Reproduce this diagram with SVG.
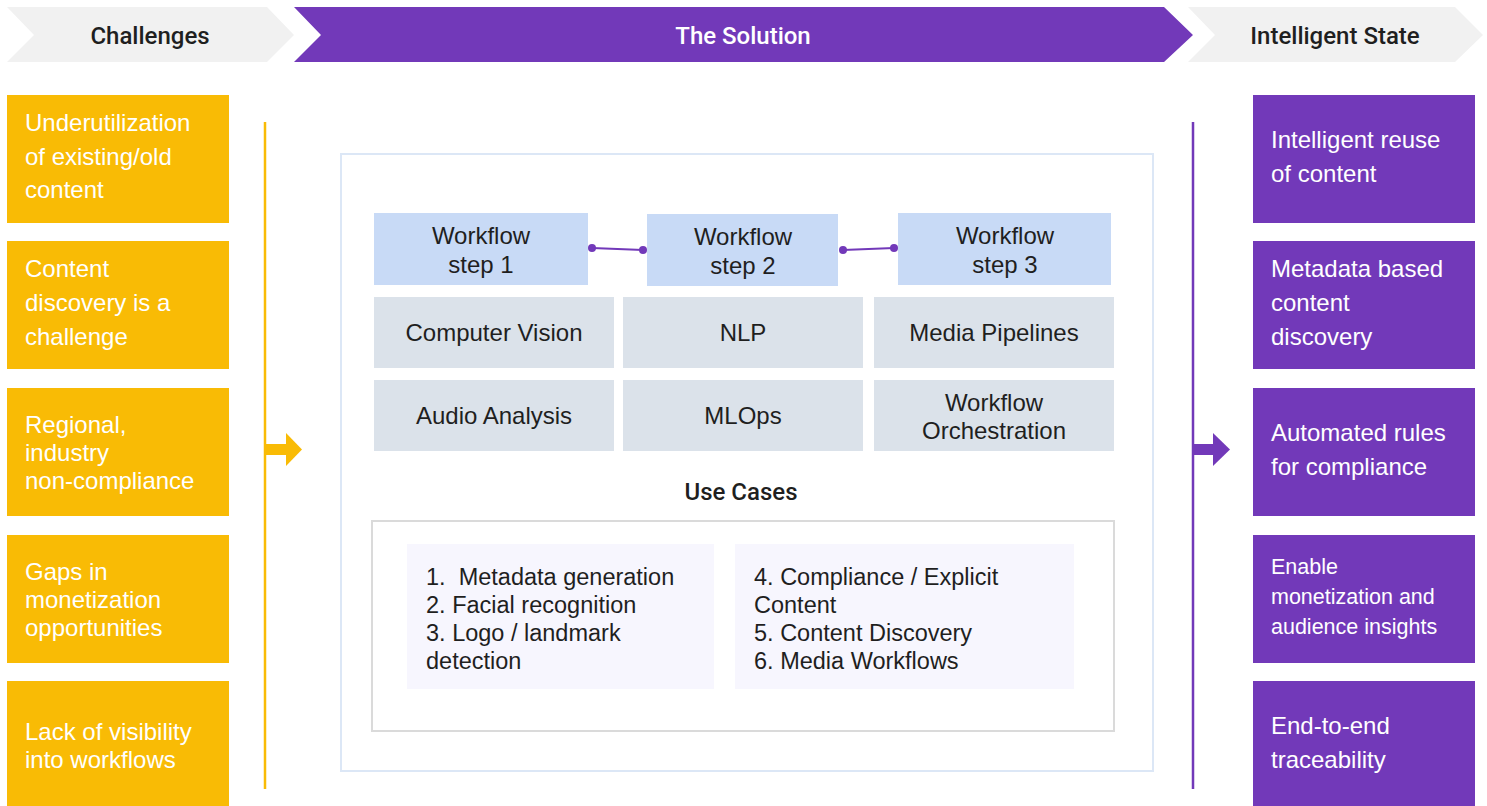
<svg xmlns="http://www.w3.org/2000/svg" width="1487" height="806" viewBox="0 0 1487 806">
<style>
.hd{font-family:Roboto,"Liberation Sans",sans-serif;font-weight:500;font-size:24px;text-anchor:middle}
.wt{font-family:"Liberation Sans",Arial,sans-serif;font-size:24px;fill:#ffffff}
.wt2{font-family:"Liberation Sans",Arial,sans-serif;font-size:21.5px;fill:#ffffff}
.dk{font-family:"Liberation Sans",Arial,sans-serif;font-size:24px;fill:#1f1f1f;text-anchor:middle}
.uc{font-family:"Liberation Sans",Arial,sans-serif;font-size:23.5px;fill:#1f1f1f}
.yb{fill:#F9BB05}
.pb{fill:#7239B9}
.wf{fill:#C8DAF6}
.gb{fill:#DBE2EA}
.lv{fill:#F7F6FE}
</style>
<rect width="1487" height="806" fill="#ffffff"/>

<g id="header-challenges">
<polygon points="7,7 267,7 294,35 267,62 7,62 34,35" fill="#F1F1F1"/>
<text class="hd" x="150" y="44" fill="#1f1f1f">Challenges</text>
</g>
<g id="header-solution">
<polygon points="294,7 1164,7 1193,35 1164,62 294,62 321,35" fill="#7239B9"/>
<text class="hd" x="743" y="44" fill="#ffffff">The Solution</text>
</g>
<g id="header-intelligent">
<polygon points="1188,7 1455,7 1483,35 1455,62 1188,62 1215,35" fill="#F1F1F1"/>
<text class="hd" x="1335" y="44" fill="#1f1f1f">Intelligent State</text>
</g>

<g id="challenge-1"><rect class="yb" x="7" y="95" width="222" height="128"/>
<text class="wt" x="25" y="131">Underutilization</text><text class="wt" x="25" y="165">of existing/old</text><text class="wt" x="25" y="198">content</text></g>
<g id="challenge-2"><rect class="yb" x="7" y="241" width="222" height="128"/>
<text class="wt" x="25" y="277">Content</text><text class="wt" x="25" y="311">discovery is a</text><text class="wt" x="25" y="345">challenge</text></g>
<g id="challenge-3"><rect class="yb" x="7" y="388" width="222" height="128"/>
<text class="wt" x="25" y="433">Regional,</text><text class="wt" x="25" y="461">industry</text><text class="wt" x="25" y="489">non-compliance</text></g>
<g id="challenge-4"><rect class="yb" x="7" y="535" width="222" height="128"/>
<text class="wt" x="25" y="580">Gaps in</text><text class="wt" x="25" y="608">monetization</text><text class="wt" x="25" y="636">opportunities</text></g>
<g id="challenge-5"><rect class="yb" x="7" y="681" width="222" height="125"/>
<text class="wt" x="25" y="740">Lack of visibility</text><text class="wt" x="25" y="768">into workflows</text></g>

<g id="state-1"><rect class="pb" x="1253" y="95" width="222" height="128"/>
<text class="wt" x="1271" y="148">Intelligent reuse</text><text class="wt" x="1271" y="182">of content</text></g>
<g id="state-2"><rect class="pb" x="1253" y="241" width="222" height="128"/>
<text class="wt" x="1271" y="277">Metadata based</text><text class="wt" x="1271" y="311">content</text><text class="wt" x="1271" y="345">discovery</text></g>
<g id="state-3"><rect class="pb" x="1253" y="388" width="222" height="128"/>
<text class="wt" x="1271" y="441">Automated rules</text><text class="wt" x="1271" y="475">for compliance</text></g>
<g id="state-4"><rect class="pb" x="1253" y="535" width="222" height="128"/>
<text class="wt2" x="1271" y="574">Enable</text><text class="wt2" x="1271" y="604">monetization and</text><text class="wt2" x="1271" y="634">audience insights</text></g>
<g id="state-5"><rect class="pb" x="1253" y="681" width="222" height="125"/>
<text class="wt" x="1271" y="734">End-to-end</text><text class="wt" x="1271" y="768">traceability</text></g>

<g id="solution-container">
<rect x="341" y="154" width="812" height="617" fill="#ffffff" stroke="#DCE7F6" stroke-width="2"/>
</g>

<g id="wf-step-1"><rect class="wf" x="374" y="213" width="214" height="72"/>
<text class="dk" x="481" y="244">Workflow</text><text class="dk" x="481" y="273">step 1</text></g>
<g id="wf-step-2"><rect class="wf" x="647" y="214" width="191" height="72"/>
<text class="dk" x="743" y="245">Workflow</text><text class="dk" x="743" y="274">step 2</text></g>
<g id="wf-step-3"><rect class="wf" x="898" y="213" width="213" height="72"/>
<text class="dk" x="1005" y="244">Workflow</text><text class="dk" x="1005" y="273">step 3</text></g>

<g id="cap-cv"><rect class="gb" x="374" y="297" width="240" height="71"/><text class="dk" x="494" y="341">Computer Vision</text></g>
<g id="cap-nlp"><rect class="gb" x="623" y="297" width="240" height="71"/><text class="dk" x="743" y="341">NLP</text></g>
<g id="cap-media"><rect class="gb" x="874" y="297" width="240" height="71"/><text class="dk" x="994" y="341">Media Pipelines</text></g>
<g id="cap-audio"><rect class="gb" x="374" y="380" width="240" height="71"/><text class="dk" x="494" y="424">Audio Analysis</text></g>
<g id="cap-mlops"><rect class="gb" x="623" y="380" width="240" height="71"/><text class="dk" x="743" y="424">MLOps</text></g>
<g id="cap-orch"><rect class="gb" x="874" y="380" width="240" height="71"/><text class="dk" x="994" y="411">Workflow</text><text class="dk" x="994" y="439">Orchestration</text></g>

<g id="use-cases">
<text class="hd" x="741" y="500" fill="#1f1f1f">Use Cases</text>
<rect x="372" y="521" width="742" height="210" fill="#ffffff" stroke="#DADADA" stroke-width="2"/>
</g>
<g id="use-cases-left"><rect class="lv" x="407" y="544" width="307" height="145"/>
<text class="uc" x="426" y="585" xml:space="preserve">1.  Metadata generation</text>
<text class="uc" x="426" y="613">2. Facial recognition</text>
<text class="uc" x="426" y="641">3. Logo / landmark</text>
<text class="uc" x="426" y="669">detection</text></g>
<g id="use-cases-right"><rect class="lv" x="735" y="544" width="339" height="145"/>
<text class="uc" x="754" y="585">4. Compliance / Explicit</text>
<text class="uc" x="754" y="613">Content</text>
<text class="uc" x="754" y="641">5. Content Discovery</text>
<text class="uc" x="754" y="669">6. Media Workflows</text></g>

<g id="connectors">
<line x1="592" y1="248" x2="643" y2="250" stroke="#7239B9" stroke-width="2"/>
<circle cx="592" cy="248" r="4" fill="#7239B9"/><circle cx="643" cy="250" r="4" fill="#7239B9"/>
<line x1="843" y1="250" x2="894" y2="248" stroke="#7239B9" stroke-width="2"/>
<circle cx="843" cy="250" r="4" fill="#7239B9"/><circle cx="894" cy="248" r="4" fill="#7239B9"/>
<line x1="265" y1="122" x2="265" y2="789" stroke="#F9BB05" stroke-width="2.5"/>
<rect x="265" y="444" width="22" height="11" fill="#F9BB05"/>
<polygon points="286,433 302,449.5 286,466" fill="#F9BB05"/>
<line x1="1193" y1="122" x2="1193" y2="789" stroke="#7239B9" stroke-width="2.5"/>
<rect x="1193" y="444" width="21" height="11" fill="#7239B9"/>
<polygon points="1213,433 1230,449.5 1213,466" fill="#7239B9"/>
</g>
</svg>
